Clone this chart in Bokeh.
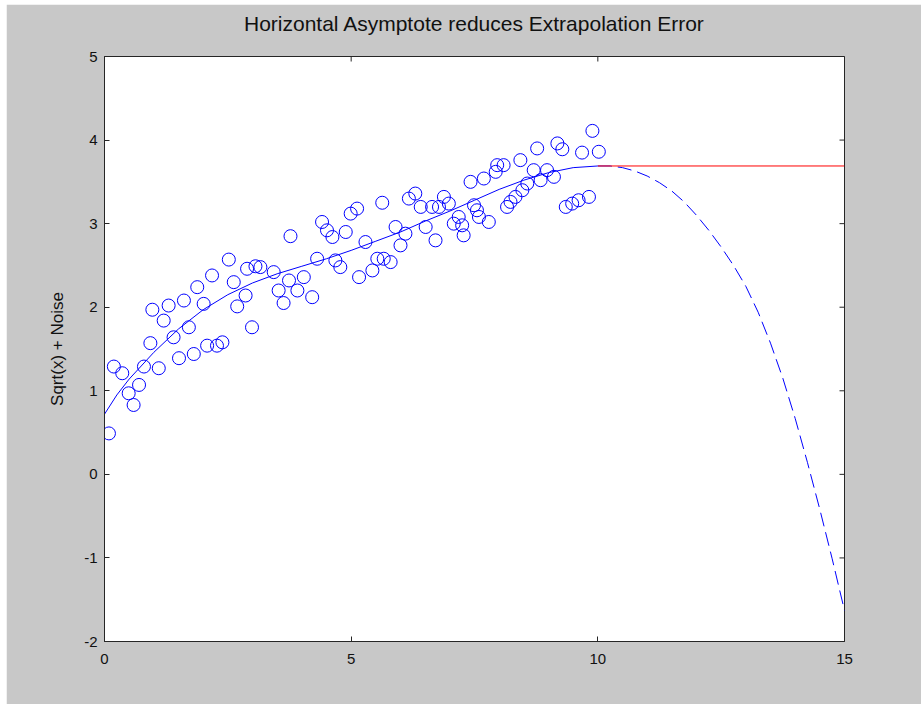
import math
from bokeh.plotting import figure
from bokeh.models import Range1d, FixedTicker, LinearAxis
from bokeh.embed import file_html
from bokeh.resources import INLINE

# ---- data ----
obs_x = [0.09, 0.19, 0.36, 0.49, 0.59, 0.70, 0.80, 0.93, 0.97, 1.10,
         1.20, 1.30, 1.40, 1.51, 1.61, 1.71, 1.81, 1.88, 2.01, 2.08,
         2.18, 2.28, 2.39, 2.52, 2.62, 2.69, 2.86, 2.89, 2.99, 3.06,
         3.16, 3.43, 3.53, 3.63, 3.74, 3.77, 3.91, 4.04, 4.21, 4.31,
         4.41, 4.51, 4.62, 4.68, 4.78, 4.89, 4.99, 5.12, 5.16, 5.29,
         5.43, 5.53, 5.63, 5.66, 5.80, 5.90, 6.00, 6.10, 6.17, 6.30,
         6.41, 6.51, 6.64, 6.71, 6.78, 6.88, 6.98, 7.08, 7.18, 7.25,
         7.28, 7.42, 7.49, 7.55, 7.59, 7.69, 7.79, 7.93, 7.96, 8.09,
         8.16, 8.23, 8.33, 8.43, 8.47, 8.57, 8.70, 8.77, 8.84, 8.97,
         9.11, 9.18, 9.28, 9.35, 9.48, 9.61, 9.68, 9.82, 9.89, 10.02]
obs_y = [0.49, 1.29, 1.21, 0.97, 0.83, 1.07, 1.29, 1.57, 1.97, 1.27,
         1.84, 2.02, 1.64, 1.39, 2.08, 1.76, 1.44, 2.24, 2.04, 1.54,
         2.38, 1.54, 1.58, 2.57, 2.30, 2.01, 2.14, 2.46, 1.76, 2.49,
         2.48, 2.42, 2.20, 2.05, 2.32, 2.85, 2.20, 2.36, 2.12, 2.58,
         3.02, 2.92, 2.84, 2.56, 2.48, 2.90, 3.12, 3.18, 2.36, 2.78,
         2.44, 2.58, 3.25, 2.58, 2.54, 2.96, 2.74, 2.88, 3.30, 3.36,
         3.20, 2.96, 3.20, 2.80, 3.20, 3.32, 3.24, 3.00, 3.08, 2.98,
         2.86, 3.50, 3.22, 3.16, 3.08, 3.54, 3.02, 3.62, 3.70, 3.70,
         3.20, 3.26, 3.32, 3.76, 3.40, 3.48, 3.64, 3.90, 3.52, 3.64,
         3.56, 3.96, 3.89, 3.20, 3.24, 3.28, 3.85, 3.32, 4.11, 3.86]

fit_x = [0, 0.25, 0.5, 1, 1.5, 2, 2.5, 3, 3.5, 4, 4.5, 5, 5.5, 6, 6.5,
         7, 7.5, 8, 8.5, 9, 9.5, 10]
fit_y = [0.72, 0.95, 1.14, 1.46, 1.74, 1.97, 2.15, 2.29, 2.40, 2.49, 2.58,
         2.68, 2.79, 2.90, 3.03, 3.15, 3.28, 3.41, 3.52, 3.61, 3.67, 3.69]

ext_x = [10, 10.25, 10.5, 10.75, 11, 11.25, 11.5, 11.75, 12, 12.25, 12.5,
         12.75, 13, 13.25, 13.5, 13.75, 14, 14.25, 14.5, 14.75, 15]
ext_y = [3.69, 3.69, 3.67, 3.63, 3.57, 3.49, 3.39, 3.26, 3.10, 2.92, 2.72,
         2.50, 2.25, 1.94, 1.57, 1.15, 0.67, 0.14, -0.42, -1.01, -1.63]

asym_x = [10, 15]
asym_y = [3.69, 3.69]

x_ticks = [0, 5, 10, 15]
y_ticks = [-2, -1, 0, 1, 2, 3, 4, 5]
y_tick_labels = ["-2", "-1", "0", "1", "2", "3", "4", "5"]

title_text = "Horizontal Asymptote reduces Extrapolation Error"
y_label = "Sqrt(x) + Noise"

FONT = "Liberation Sans"
BG = "#c8c8c8"
AX = "#262626"
TXT = "#111111"

p = figure(width=915, height=700, output_backend="svg", toolbar_location=None,
           x_range=Range1d(x_ticks[0], x_ticks[-1]), y_range=Range1d(y_ticks[0], y_ticks[-1]),
           min_border_left=98, min_border_right=77, min_border_top=52,
           min_border_bottom=63, title=None)
p.margin = (4, 0, 0, 6)
p.background_fill_color = "white"
p.border_fill_color = BG
p.outline_line_color = AX
p.outline_line_width = 1
p.grid.visible = False

bottom_ax = p.below[0]
left_ax = p.left[0]

for ax in (bottom_ax, left_ax):
    ax.major_tick_in = 5
    ax.major_tick_out = 0
    ax.minor_tick_in = 0
    ax.minor_tick_out = 0
    ax.axis_line_color = AX
    ax.major_tick_line_color = AX
    ax.major_label_text_font = FONT
    ax.major_label_text_font_size = "15px"
    ax.major_label_text_color = TXT

bottom_ax.ticker = FixedTicker(ticks=x_ticks)
left_ax.ticker = FixedTicker(ticks=y_ticks)
left_ax.major_label_overrides = {t_: s for t_, s in zip(y_ticks, y_tick_labels)}
bottom_ax.major_label_standoff = 12
left_ax.major_label_standoff = 7
left_ax.axis_label = y_label
left_ax.axis_label_text_font = FONT
left_ax.axis_label_text_font_size = "17px"
left_ax.axis_label_text_font_style = "normal"
left_ax.axis_label_text_color = TXT
left_ax.axis_label_standoff = 14

# title drawn as the label of an empty top axis (no ticks, no tick labels)
top_ax = LinearAxis(ticker=FixedTicker(ticks=[]), major_tick_out=0, major_tick_in=0,
                    minor_tick_in=0, minor_tick_out=0, axis_line_color=None,
                    major_label_standoff=0, axis_label=title_text,
                    axis_label_standoff=22, axis_label_text_font=FONT,
                    axis_label_text_font_size="21px", axis_label_text_font_style="normal",
                    axis_label_text_color=TXT)
p.add_layout(top_ax, "above")

# inner ticks on the right and top edges of the box
p.scatter([x_ticks[-1]] * len(y_ticks), y_ticks, marker="dash", size=10,
          line_color=AX, line_width=1)
p.scatter(x_ticks, [y_ticks[-1]] * len(x_ticks), marker="dash", angle=math.pi / 2,
          size=10, line_color=AX, line_width=1)

p.scatter(obs_x, obs_y, marker="circle", size=13, fill_color=None,
          line_color="#0000ff", line_width=1)
p.line(fit_x, fit_y, line_color="#0000ff", line_width=1)
p.line(ext_x, ext_y, line_color="#0000ff", line_width=1, line_dash="14 6")
p.line(asym_x, asym_y, line_color="#ff0000", line_width=1)

open("out.html", "w").write(file_html(p, INLINE))
